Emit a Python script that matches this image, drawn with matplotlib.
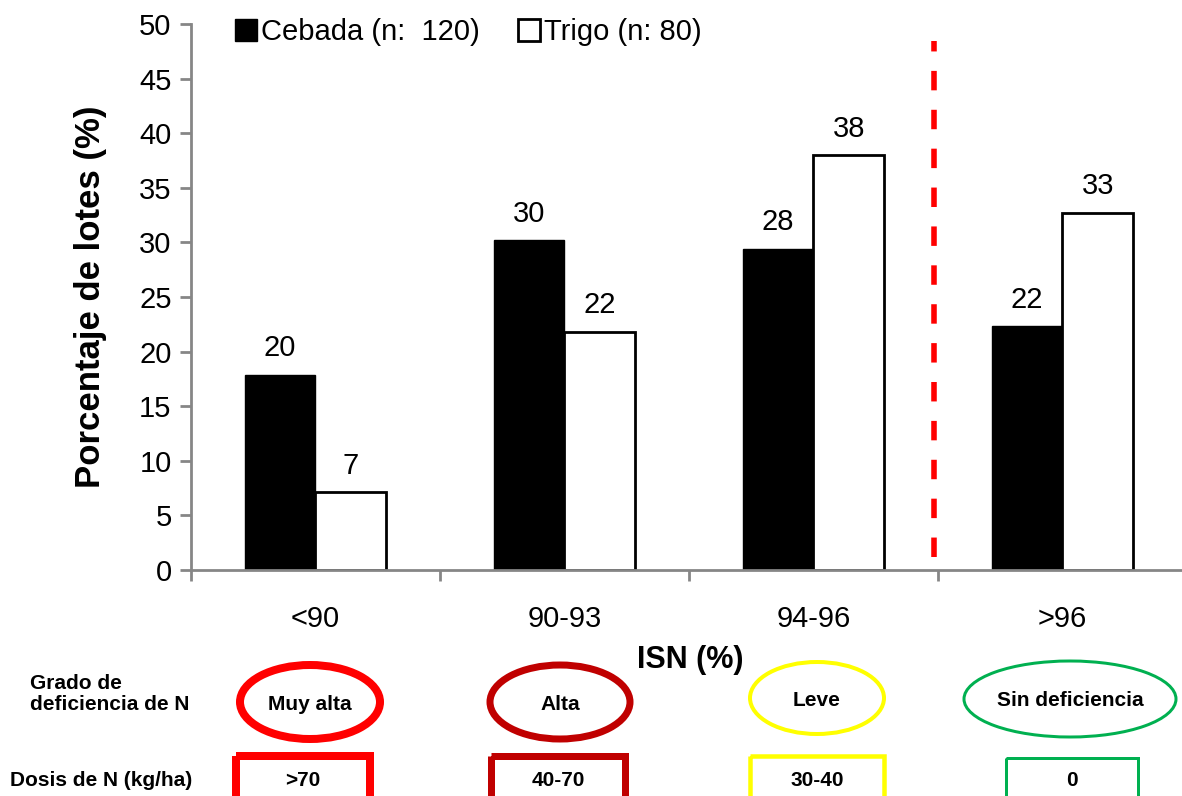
import matplotlib.pyplot as plt
import matplotlib.patches as patches
import numpy as np

plt.rcParams['font.family'] = ['Liberation Sans', 'DejaVu Sans']

categorias = ['<90', '90-93', '94-96', '>96']
cebada = [17.9, 30.2, 29.4, 22.3]
trigo = [7.1, 21.8, 38.0, 32.7]
etiq_cebada = ['20', '30', '28', '22']
etiq_trigo = ['7', '22', '38', '33']

grados = ['Muy alta', 'Alta', 'Leve', 'Sin deficiencia']
dosis = ['>70', '40-70', '30-40', '0']
colores = ['#FF0000', '#C00000', '#FFFF00', '#00B050']

W, H = 1182, 796
fig = plt.figure(figsize=(W / 100, H / 100), dpi=100)
ax = fig.add_axes([191 / W, (H - 570) / H, 991 / W, 546 / H])

x = np.arange(len(categorias))
bw = 0.285
b1 = ax.bar(x - bw / 2, cebada, bw, color='black', edgecolor='black', linewidth=1,
            label='Cebada (n:  120)')
b2 = ax.bar(x + bw / 2, trigo, bw, color='white', edgecolor='black', linewidth=2,
            label='Trigo (n: 80)')

for r, t in zip(b1, etiq_cebada):
    ax.annotate(t, (r.get_x() + r.get_width() / 2, r.get_height()), xytext=(0, 9),
                textcoords='offset points', ha='center', va='bottom', fontsize=21)
for r, t in zip(b2, etiq_trigo):
    ax.annotate(t, (r.get_x() + r.get_width() / 2, r.get_height()), xytext=(0, 9),
                textcoords='offset points', ha='center', va='bottom', fontsize=21)

ax.plot([2.484, 2.484], [1.2, 48.4], color='#FF0000', linewidth=4, dashes=(3.5, 3.5))

ax.set_xlim(-0.5, 3.48)
ax.set_ylim(0, 50)
ax.set_yticks(range(0, 51, 5))
ax.set_xticks(x)
ax.set_xticklabels(categorias)
ax.set_xticks([-0.5, 0.5, 1.5, 2.5], minor=True)
ax.tick_params(axis='y', labelsize=21, length=8, width=2, color='#868686', pad=6)
ax.tick_params(axis='x', which='major', labelsize=21, length=0, pad=25)
ax.tick_params(axis='x', which='minor', length=8, width=2, color='#868686')
for s in ['top', 'right']:
    ax.spines[s].set_visible(False)
for s in ['left', 'bottom']:
    ax.spines[s].set_color('#868686')
    ax.spines[s].set_linewidth(2)

ax.set_ylabel('Porcentaje de lotes (%)', fontsize=25, fontweight='bold')
ax.yaxis.set_label_coords(-(191 - 107) / 991, 0.5)

fig.legend(loc='upper left', bbox_to_anchor=(235 / W, 1 - 18 / H), ncol=2, frameon=False,
           fontsize=21, handlelength=0.75, handleheight=0.75, handletextpad=0.15,
           columnspacing=1.3, borderpad=0, borderaxespad=0)

# panel inferior en pixeles de la figura
ov = fig.add_axes([0, 0, 1, 1], zorder=-1)
ov.set_xlim(0, W)
ov.set_ylim(H, 0)
ov.axis('off')

ov.text(690, 660, 'ISN (%)', ha='center', va='center', fontsize=22, fontweight='bold')
ov.text(30, 694, 'Grado de\ndeficiencia de N', ha='left', va='center', fontsize=15,
        fontweight='bold', linespacing=1.1)
ov.text(10, 780, 'Dosis de N (kg/ha)', ha='left', va='center', fontsize=15, fontweight='bold')

elipses = [(310, 702, 140, 74, 8), (560, 702, 140, 74, 7), (817, 698, 134, 72, 4),
           (1070, 699, 212, 76, 3)]
cajas = [(236, 756, 134, 50, 8), (491, 756, 134, 50, 7), (750, 756, 134, 50, 4.5),
         (1006, 758, 132, 50, 3)]
for i in range(4):
    cx, cy, ew, eh, lw = elipses[i]
    ov.add_patch(patches.Ellipse((cx, cy), ew, eh, fill=False, edgecolor=colores[i],
                                 linewidth=lw * 0.72))
    ov.text(cx, cy + 2, grados[i], ha='center', va='center', fontsize=15, fontweight='bold')
    bx, by, bwd, bh, lw = cajas[i]
    ov.add_patch(patches.Rectangle((bx, by), bwd, bh, fill=False, edgecolor=colores[i],
                                   linewidth=lw * 0.72))
    ov.text(bx + bwd / 2, 780, dosis[i], ha='center', va='center', fontsize=15,
            fontweight='bold')

fig.savefig('out.png', dpi=100)
